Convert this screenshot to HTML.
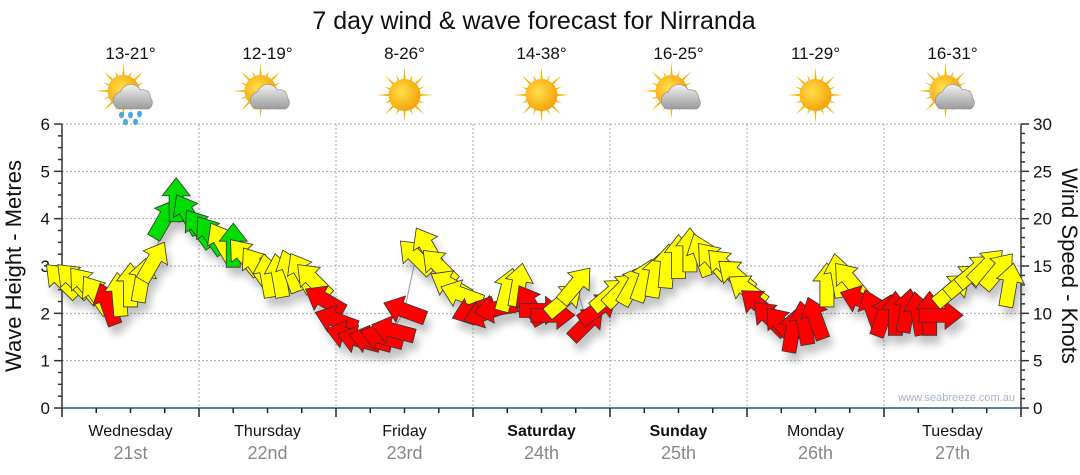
<!DOCTYPE html>
<html><head><meta charset="utf-8"><style>
html,body{margin:0;padding:0;background:#fff;}
svg{display:block;font-family:"Liberation Sans",sans-serif;}
</style></head><body>
<svg id="chart" width="1080" height="475" viewBox="0 0 1080 475">
<defs>
<radialGradient id="sunG" cx="0.4" cy="0.4" r="0.7"><stop offset="0" stop-color="#ffe04a"/><stop offset="1" stop-color="#f39a00"/></radialGradient>
<linearGradient id="cloudG" x1="0" y1="0" x2="0" y2="1"><stop offset="0" stop-color="#f2f2f2"/><stop offset="1" stop-color="#9a9a9a"/></linearGradient>
<filter id="shadow" x="-50%" y="-50%" width="200%" height="200%"><feGaussianBlur stdDeviation="4"/></filter>
</defs>
<text x="534" y="29" font-size="25" text-anchor="middle" fill="#111">7 day wind &amp; wave forecast for Nirranda</text>
<g id="grid"></g><g id="icons"></g><g id="axes"></g><g id="marks"></g>
<text x="1015" y="401" font-size="11" text-anchor="end" fill="#a8b4c4">www.seabreeze.com.au</text>
<text transform="translate(21,266) rotate(-90)" font-size="22" text-anchor="middle" fill="#111">Wave Height - Metres</text>
<text transform="translate(1062,266) rotate(90)" font-size="22" text-anchor="middle" fill="#111">Wind Speed - Knots</text>
</svg>
<script>
const dayNames=["Wednesday","Thursday","Friday","Saturday","Sunday","Monday","Tuesday"];
const dayDates=["21st","22nd","23rd","24th","25th","26th","27th"];
const dayBold=[false,false,false,true,true,false,false];
const temps=["13-21°","12-19°","8-26°","14-38°","16-25°","11-29°","16-31°"];
const icons=["rain","cloud","sun","sun","cloud","sun","cloud"];
const waveTicks=[0,1,2,3,4,5,6];
const windTicks=[0,5,10,15,20,25,30];
const hours=[0,2,4,6,8,10,12,14,16,18,20,22,24,26,28,30,32,34,36,38,40,42,44,46,48,50,52,54,56,58,60,62,64,66,68,70,72,74,76,78,80,82,84,86,88,90,92,94,96,98,100,102,104,106,108,110,112,114,116,118,120,122,124,126,128,130,132,134,136,138,140,142,144,146,148,150,152,154,156,158,160,162,164,166];
const windSpeed=[13.5,13.5,13,12,11,12,13,13.5,15.5,20,22,20.5,19,18.3,17.5,17.2,16,15,14,14,14.5,14.3,13.5,11.4,9.3,7.7,7.2,7.2,7.5,8.2,10.3,16,17,15,13,12,10.3,10,10.5,12.5,13,10.9,10.3,9.8,11.4,13,9,10.5,12,12.5,13,13.5,14,15,16,16.7,16.2,15.6,15,14,12.5,10.9,9.5,8.8,8.2,9,9.5,13,14,13.5,11.4,10.3,9.8,10,10.3,10,10,9.8,12.5,13.5,14.5,15,14.5,13];
const windDir=[-45,-45,-40,-35,-20,-5,0,10,30,30,0,-30,-35,-35,-30,0,-40,-35,-10,-10,-20,-30,-45,-60,-70,-75,-75,-75,-75,-75,-70,-45,-30,-45,-60,-70,-110,-110,-100,15,10,-30,90,90,50,40,45,55,50,45,30,20,10,5,0,0,-20,-40,-45,-50,-55,-50,-45,-40,10,-10,-20,0,-10,-40,-70,-20,20,0,10,-10,0,90,50,50,50,45,40,10];
const windRating=["Y","Y","Y","Y","R","Y","Y","Y","Y","G","G","G","G","G","Y","G","Y","Y","Y","Y","Y","Y","Y","R","R","R","R","R","R","R","R","Y","Y","Y","Y","Y","R","R","R","Y","Y","R","R","R","Y","Y","R","R","Y","Y","Y","Y","Y","Y","Y","Y","Y","Y","Y","Y","Y","R","R","R","R","R","R","Y","Y","Y","R","R","R","R","R","R","R","R","Y","Y","Y","Y","Y","Y"];

const NS="http://www.w3.org/2000/svg";
const X0=62,X1=1021,Y0=408,Y1=124;
const xH=h=>X0+h*(X1-X0)/168;
const yM=m=>Y0-m*(Y0-Y1)/6;
const yK=k=>Y0-k*(Y0-Y1)/30;
function mk(tag,attrs,parent){const e=document.createElementNS(NS,tag);for(const k in attrs)e.setAttribute(k,attrs[k]);parent.appendChild(e);return e;}
const grid=document.getElementById('grid'),axes=document.getElementById('axes'),marks=document.getElementById('marks'),ic=document.getElementById('icons');

waveTicks.forEach(t=>{
  if(t>0){const l=mk('line',{x1:X0,x2:X1,y1:yM(t),y2:yM(t),stroke:'#aaa','stroke-dasharray':'2,2'},grid);
  
  }
  const tx=mk('text',{x:50,y:yM(t)+6,'font-size':17,'text-anchor':'end',fill:'#111'},axes);tx.textContent=t;
  
  
});
for(let m=0;m<=24;m++){const y=Y0-m*(Y0-Y1)/24;mk('line',{x1:X0-(m%4?4:8),x2:X0,y1:y,y2:y,stroke:'#333','stroke-width':1.5},axes);}
for(let k=0;k<=30;k++){const y=yK(k);mk('line',{x1:X1,x2:X1+(k%5?4:8),y1:y,y2:y,stroke:'#333','stroke-width':1.5},axes);}
windTicks.forEach(t=>{const tx=mk('text',{x:1033,y:yK(t)+6,'font-size':17,fill:'#111'},axes);tx.textContent=t;
  
  });
mk('line',{x1:X0,x2:X0,y1:Y1,y2:Y0,stroke:'#333','stroke-width':1.5},axes);
mk('line',{x1:X1,x2:X1,y1:Y1,y2:Y0,stroke:'#333','stroke-width':1.5},axes);
mk('line',{x1:X0,x2:X1,y1:Y0,y2:Y0,stroke:'#1d5a84','stroke-width':1.5},axes);
for(let h=0;h<=168;h+=6){const x=xH(h);mk('line',{x1:x,x2:x,y1:Y0,y2:Y0+(h%24?5:9),stroke:'#222','stroke-width':1.5},axes);}

dayNames.forEach((d,i)=>{
  const cx=xH(i*24+12);
  if(i>0){const l=mk('line',{x1:xH(i*24),x2:xH(i*24),y1:Y1,y2:Y0,stroke:'#aaa','stroke-dasharray':'2,2'},grid);
    
    }
  const t=mk('text',{x:cx,y:436,'font-size':16,'text-anchor':'middle',fill:'#111','font-weight':dayBold[i]?'bold':'normal'},axes);t.textContent=d;
  
  
  const t2=mk('text',{x:cx,y:459,'font-size':18,'text-anchor':'middle',fill:'#888'},axes);t2.textContent=dayDates[i];
  
  
  const t3=mk('text',{x:cx,y:59,'font-size':17,'text-anchor':'middle',fill:'#111'},ic);t3.textContent=temps[i];
  
  
  const g=mk('g',{transform:`translate(${cx},95)`},ic);
  
  
  const sx=icons[i]==='sun'?0:-7, sy=icons[i]==='sun'?0:-4;
  for(let a=0;a<16;a++){const ang=a*Math.PI/8,len=a%2?22:28;
    mk('polygon',{points:`${sx+Math.cos(ang-0.12)*12},${sy+Math.sin(ang-0.12)*12} ${sx+Math.cos(ang)*len},${sy+Math.sin(ang)*len} ${sx+Math.cos(ang+0.12)*12},${sy+Math.sin(ang+0.12)*12}`,fill:'#f5b400'},g);}
  mk('circle',{cx:sx,cy:sy,r:16,fill:'url(#sunG)'},g);
  if(icons[i]!=='sun'){
    mk('path',{d:'M-12,14 a9,9 0 0 1 2,-17 a11,11 0 0 1 20,-2 a8,8 0 0 1 10,8 a7,7 0 0 1 -2,11 z',fill:'url(#cloudG)',stroke:'#888','stroke-width':0.6},g);
    if(icons[i]==='rain'){[[-9,20],[0,20],[9,19],[-5,27],[5,27]].forEach(p=>mk('ellipse',{cx:p[0],cy:p[1],rx:2.5,ry:3.2,fill:'#4aa8e8'},g));}
  }
});

let d='';hours.forEach((h,i)=>{d+=(i?'L':'M')+xH(h)+','+yK(windSpeed[i]);});
const ln=mk('path',{d:d,fill:'none',stroke:'#999','stroke-width':1},marks);


const colors={R:'#ff0000',Y:'#ffff00',G:'#00dd00'};
const shape='M0,-22 L14,-4 L7,-4 L7,22 L-7,22 L-7,-4 L-14,-4 Z';
const sh=mk('g',{filter:'url(#shadow)',opacity:0.35},marks);
hours.forEach((h,i)=>{mk('path',{d:shape,fill:'#555',transform:`translate(${xH(h)+4},${yK(windSpeed[i])+9}) rotate(${windDir[i]})`},sh);});
hours.forEach((h,i)=>{
  const a=mk('path',{d:shape,fill:colors[windRating[i]],stroke:'#333','stroke-width':0.8,'stroke-linejoin':'miter',transform:`translate(${xH(h)},${yK(windSpeed[i])}) rotate(${windDir[i]})`},marks);
  
  
});
</script>
</body></html>
